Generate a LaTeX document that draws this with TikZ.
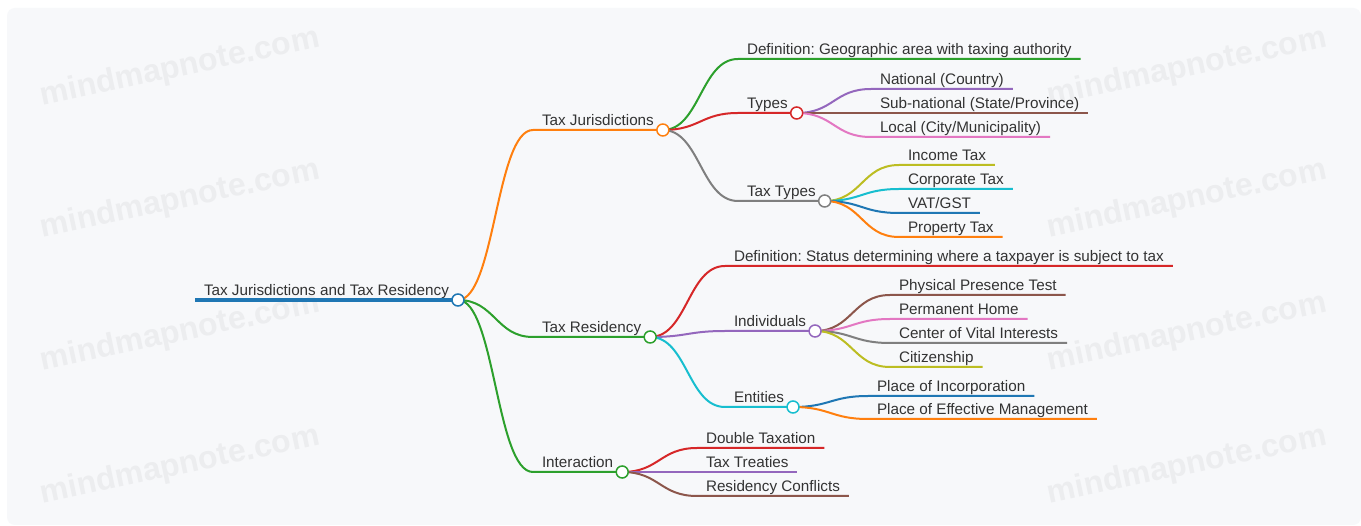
\documentclass[tikz,border=0pt]{standalone}
\usepackage{fontspec}
\setmainfont{Liberation Sans}
\frenchspacing
\definecolor{c0}{HTML}{1F77B4}
\definecolor{c1}{HTML}{FF7F0E}
\definecolor{c2}{HTML}{2CA02C}
\definecolor{c3}{HTML}{D62728}
\definecolor{c4}{HTML}{9467BD}
\definecolor{c5}{HTML}{8C564B}
\definecolor{c6}{HTML}{E377C2}
\definecolor{c7}{HTML}{7F7F7F}
\definecolor{c8}{HTML}{BCBD22}
\definecolor{c9}{HTML}{17BECF}
\definecolor{ink}{HTML}{333333}
\definecolor{paper}{HTML}{F7F8FA}
\definecolor{wmark}{HTML}{ECEDEF}
\begin{document}
\begin{tikzpicture}[x=1pt,y=-1pt,font=\fontsize{15.25}{18}\selectfont,
  lbl/.style={anchor=base west,inner xsep=9pt,inner ysep=0pt,outer sep=0pt,text=ink},
  dot/.style={circle,draw,fill=white,line width=1.5pt,minimum size=12pt,inner sep=0pt},
  link/.style={to path={.. controls +(37,0) and +(-37,0) .. (\tikztotarget)}}]
\useasboundingbox (0,0) rectangle (1361,526);
\fill[white] (0,0) rectangle (1361,526);
\fill[paper,rounded corners=8pt] (7,8) rectangle (1361,525);
% watermark
\foreach \x in {180,1187}{\foreach \y in {68,200,333,466}{\node[rotate=12,text=wmark,font=\fontsize{32}{36}\selectfont\bfseries] (wm-\x-\y) at (\x,\y) {mindmapnote.com};}}
% root
\coordinate (root-s) at (195,300);
\node[lbl] (root) at ([yshift=4pt]root-s) {Tax Jurisdictions and Tax Residency};
\coordinate (root-e) at (root-s -| root.east);
\draw[c0,line width=3.5pt] (root-s) -- (root-e);
% branches: name/parent/x/y/colour/text
\foreach \n/\p/\x/\y/\c/\t in {tj/root/533/130/c1/Tax Jurisdictions,tr/root/533/337/c2/Tax Residency,ia/root/533/472/c2/Interaction,
  tjd/tj/738/59/c2/{Definition: Geographic area with taxing authority},ty/tj/738/113/c3/Types,tt/tj/738/201/c7/Tax Types,
  ty1/ty/871/89/c4/{National (Country)},ty2/ty/871/113/c5/{Sub-national (State/Province)},ty3/ty/871/137/c6/{Local (City/Municipality)},
  tt1/tt/899/165/c8/Income Tax,tt2/tt/899/189/c9/Corporate Tax,tt3/tt/899/213/c0/{VAT/GST},tt4/tt/899/237/c1/Property Tax,
  trd/tr/725/266/c3/{Definition: Status determining where a taxpayer is subject to tax},ind/tr/725/331/c4/Individuals,en/tr/725/407/c9/Entities,
  ind1/ind/890/295/c5/Physical Presence Test,ind2/ind/890/319/c6/Permanent Home,ind3/ind/890/343/c7/Center of Vital Interests,ind4/ind/890/367/c8/Citizenship,
  en1/en/868/396/c0/Place of Incorporation,en2/en/868/419/c1/Place of Effective Management,
  ia1/ia/697/448/c3/Double Taxation,ia2/ia/697/472/c4/Tax Treaties,ia3/ia/697/496/c5/Residency Conflicts}{
  \coordinate (\n-s) at (\x,\y);
  \node[lbl] (\n) at ([yshift=4pt]\n-s) {\t};
  \coordinate (\n-e) at (\n-s -| \n.east);
  \draw[\c,line width=2pt] (\p-e) to[link] (\n-s) -- (\n-e);
}
% circles on the branching nodes
\foreach \n/\c in {root/c0,tj/c1,tr/c2,ia/c2,ty/c3,tt/c7,ind/c4,en/c9}{\node[dot,draw=\c] (\n-dot) at (\n-e) {};}
\end{tikzpicture}
\end{document}
